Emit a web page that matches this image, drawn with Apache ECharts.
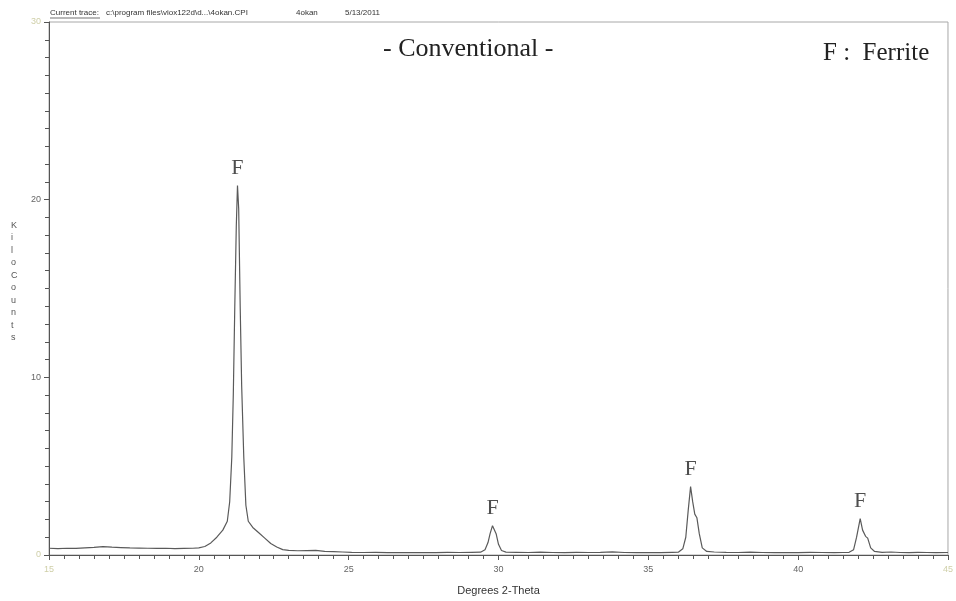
<!DOCTYPE html>
<html>
<head>
<meta charset="utf-8">
<script src="https://cdn.jsdelivr.net/npm/echarts@6/dist/echarts.min.js"></script>
<style>
  html, body { margin: 0; padding: 0; background: #fff; }
  #chart { width: 956px; height: 601px; }
</style>
</head>
<body>
<div id="chart"></div>
<script>
// diffraction trace: [2-theta, kilocounts]
const baseLeft = [
  [15.0, 0.38], [15.3, 0.36], [15.6, 0.38], [15.9, 0.37], [16.2, 0.40], [16.5, 0.43],
  [16.8, 0.47], [17.1, 0.44], [17.4, 0.42], [17.7, 0.40], [18.0, 0.39], [18.3, 0.38],
  [18.6, 0.37], [18.9, 0.38], [19.2, 0.36], [19.5, 0.37], [19.8, 0.38]
];
const peak1 = [
  [20.0, 0.40], [20.2, 0.48], [20.4, 0.68], [20.6, 1.0], [20.8, 1.4], [20.95, 1.9],
  [21.03, 3.0], [21.1, 5.5], [21.15, 9.0], [21.2, 14.0], [21.25, 18.5], [21.29, 20.8],
  [21.33, 19.5], [21.38, 14.0], [21.43, 9.5], [21.5, 5.5], [21.57, 2.8], [21.65, 1.9],
  [21.8, 1.55], [22.0, 1.25], [22.2, 0.95], [22.4, 0.65], [22.6, 0.45], [22.8, 0.3]
];
const baseMid = [
  [23.0, 0.26], [23.3, 0.24], [23.6, 0.25], [23.9, 0.26], [24.2, 0.20], [24.5, 0.19],
  [24.8, 0.17], [25.1, 0.15], [25.5, 0.14], [25.9, 0.15], [26.3, 0.13], [26.7, 0.14],
  [27.1, 0.13], [27.5, 0.14], [27.9, 0.13], [28.3, 0.15], [28.7, 0.14], [29.1, 0.15]
];
const peak2 = [
  [29.4, 0.16], [29.55, 0.3], [29.65, 0.7], [29.72, 1.2], [29.8, 1.65], [29.85, 1.6],
  [29.92, 1.2], [30.0, 0.6], [30.1, 0.25], [30.25, 0.16]
];
const baseMid2 = [
  [30.6, 0.15], [31.0, 0.14], [31.4, 0.16], [31.8, 0.14], [32.2, 0.13], [32.6, 0.15],
  [33.0, 0.14], [33.4, 0.15], [33.8, 0.18], [34.2, 0.14], [34.6, 0.13], [35.0, 0.14],
  [35.4, 0.13], [35.8, 0.15]
];
const peak3 = [
  [36.0, 0.16], [36.15, 0.35], [36.25, 1.0], [36.33, 2.5], [36.41, 3.85], [36.48, 3.0],
  [36.55, 2.3], [36.62, 2.1], [36.7, 1.2], [36.8, 0.4], [36.95, 0.2]
];
const baseMid3 = [
  [37.2, 0.17], [37.6, 0.15], [38.0, 0.14], [38.4, 0.16], [38.8, 0.14], [39.2, 0.13],
  [39.6, 0.14], [40.0, 0.13], [40.4, 0.15], [40.8, 0.14], [41.2, 0.13], [41.5, 0.14]
];
const peak4 = [
  [41.7, 0.15], [41.85, 0.3], [41.95, 1.0], [42.07, 2.05], [42.15, 1.4], [42.25, 1.05],
  [42.32, 0.95], [42.42, 0.4], [42.55, 0.2]
];
const baseRight = [
  [42.8, 0.15], [43.1, 0.17], [43.4, 0.14], [43.7, 0.13], [44.0, 0.15], [44.3, 0.14],
  [44.6, 0.13], [45.0, 0.14]
];
const trace = [].concat(baseLeft, peak1, baseMid, peak2, baseMid2, peak3, baseMid3, peak4, baseRight);

// peak markers (F = ferrite)
const peakMarks = [[21.29, 20.8], [29.8, 1.65], [36.41, 3.85], [42.07, 2.05]];

const chart = echarts.init(document.getElementById('chart'), null, { renderer: 'canvas' });

const lightLbl = { color: '#cfcfa8' };

chart.setOption({
  animation: false,
  backgroundColor: '#fff',
  grid: {
    left: 49, right: 6, top: 22, bottom: 41,
    show: true, borderColor: '#a8a8a8', borderWidth: 1
  },
  xAxis: {
    type: 'value',
    min: 15, max: 45, interval: 5,
    name: 'Degrees 2-Theta',
    nameLocation: 'middle',
    nameGap: 30,
    nameTextStyle: { fontFamily: 'Liberation Sans', fontSize: 11, color: '#333' },
    axisLine: { onZero: false, lineStyle: { color: '#555', width: 1 } },
    axisTick: { show: true, length: 5, lineStyle: { color: '#555' } },
    minorTick: { show: true, splitNumber: 10, length: 4, lineStyle: { color: '#555' } },
    splitLine: { show: false },
    axisLabel: {
      fontFamily: 'Liberation Sans', fontSize: 9, color: '#666', margin: 10,
      formatter: (v) => (v === 15 || v === 45) ? '{l|' + v + '}' : String(v),
      rich: { l: lightLbl }
    }
  },
  yAxis: {
    type: 'value',
    min: 0, max: 30, interval: 10,
    axisLine: { show: true, lineStyle: { color: '#555', width: 1 } },
    axisTick: { show: true, length: 5, lineStyle: { color: '#555' } },
    minorTick: { show: true, splitNumber: 10, length: 4, lineStyle: { color: '#555' } },
    splitLine: { show: false },
    axisLabel: {
      fontFamily: 'Liberation Sans', fontSize: 9, color: '#666', margin: 8,
      formatter: (v) => (v === 0 || v === 30) ? '{l|' + v + '}' : String(v),
      rich: { l: lightLbl }
    }
  },
  series: [
    {
      type: 'line',
      data: trace,
      showSymbol: false,
      smooth: false,
      lineStyle: { color: '#5a5a5a', width: 1.2 }
    },
    {
      type: 'scatter',
      data: peakMarks,
      symbolSize: 0,
      label: {
        show: true,
        position: 'top',
        distance: 6,
        formatter: 'F',
        fontFamily: 'Liberation Serif',
        fontSize: 22,
        color: '#222'
      }
    }
  ],
  graphic: [
    {
      type: 'text', left: 50, top: 9,
      style: { text: 'Current trace:', font: '8px "Liberation Sans"', fill: '#333' }
    },
    {
      type: 'line', shape: { x1: 50, y1: 18, x2: 100, y2: 18 },
      style: { stroke: '#333', lineWidth: 0.7 }
    },
    {
      type: 'text', left: 106, top: 9,
      style: { text: 'c:\\program files\\viox122d\\d...\\4okan.CPI', font: '8px "Liberation Sans"', fill: '#333' }
    },
    {
      type: 'text', left: 296, top: 9,
      style: { text: '4okan', font: '8px "Liberation Sans"', fill: '#333' }
    },
    {
      type: 'text', left: 345, top: 9,
      style: { text: '5/13/2011', font: '8px "Liberation Sans"', fill: '#333' }
    },
    {
      type: 'text', left: 383, top: 36,
      style: { text: '- Conventional -', font: '26px "Liberation Serif"', fill: '#222' }
    },
    {
      type: 'text', left: 823, top: 41,
      style: { text: 'F :  Ferrite', font: '25px "Liberation Serif"', fill: '#222' }
    },
    {
      type: 'text', left: 11, top: 219,
      style: {
        text: 'K\ni\nl\no\nC\no\nu\nn\nt\ns',
        font: '9px "Liberation Sans"', fill: '#555',
        lineHeight: 12.5, align: 'center', x: 4
      }
    }
  ]
});
</script>
</body>
</html>
